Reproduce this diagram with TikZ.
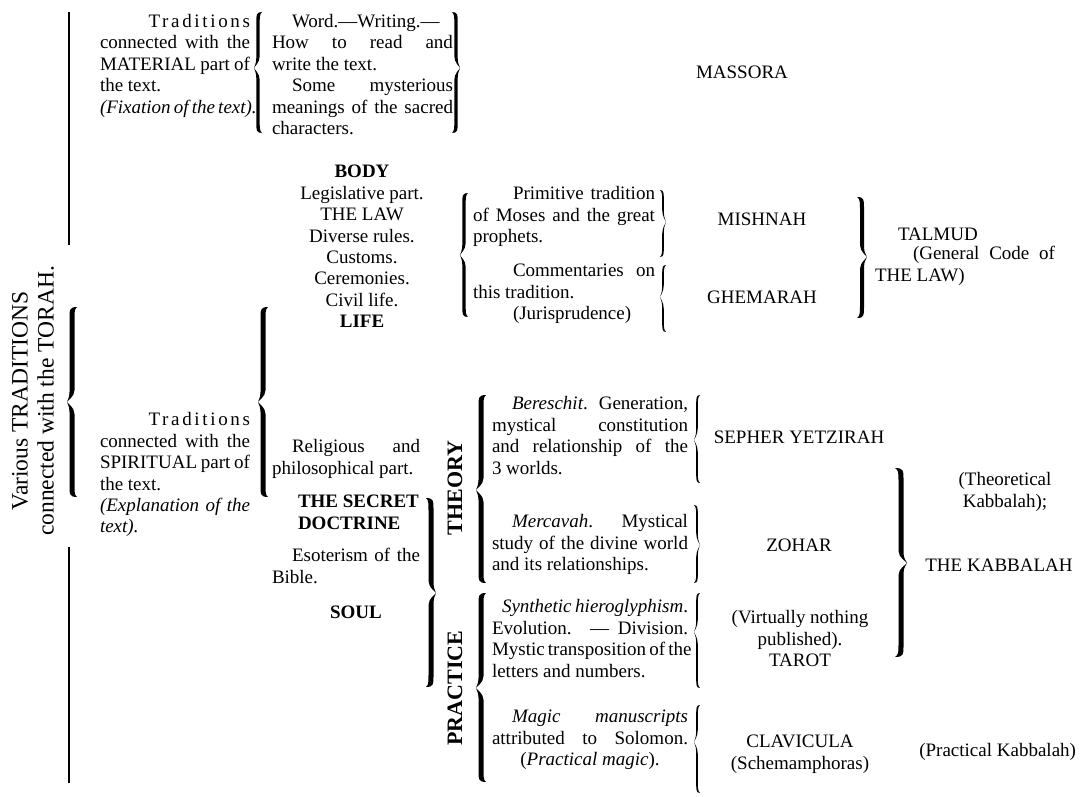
\documentclass[tikz,border=0pt]{standalone}
\usepackage{fontspec}
\setmainfont{Liberation Serif}
\newcommand\fs{\fontsize{19}{21.4}\selectfont}
\newcommand\ls[1]{{\addfontfeatures{LetterSpace=14}#1}}
\newcommand\jline[1]{\hbox to\hsize{\strut#1}}
\newcommand\lline[1]{\hbox to\hsize{\strut#1\hfil}}
\newcommand\cln[1]{\hbox to\hsize{\strut\hfil#1\hfil}}
\newcommand\blk[2]{\vbox{\hsize=#1pt #2}}
\newcommand\ind{\hspace*{20pt}}
% brace: x, y1, y2, tip y, dir (+1 tip left, -1 tip right), half thickness, amplitude
\newcommand{\brc}[7]{%
\pgfmathsetmacro\bxe{#1+#5*#7}%
\pgfmathsetmacro\bxt{#1-#5*#7}%
\pgfmathsetmacro\bxa{#1-#5*#6}%
\pgfmathsetmacro\bxb{#1+#5*#6}%
\fill (\bxe,#2) .. controls (\bxa,#2) and (\bxa,#2+3) .. (\bxa,#2+10)
 -- (\bxa,#4-10) .. controls (\bxa,#4-4) and (\bxt,#4-1) .. (\bxt,#4)
 .. controls (\bxt,#4+1) and (\bxa,#4+4) .. (\bxa,#4+10)
 -- (\bxa,#3-10) .. controls (\bxa,#3-3) and (\bxa,#3) .. (\bxe,#3)
 .. controls (\bxb,#3-2) and (\bxb,#3-5) .. (\bxb,#3-12)
 -- (\bxb,#4+12) .. controls (\bxb,#4+5) and (\bxt,#4+1) .. (\bxt,#4)
 .. controls (\bxt,#4-1) and (\bxb,#4-5) .. (\bxb,#4-12)
 -- (\bxb,#2+12) .. controls (\bxb,#2+5) and (\bxb,#2+2) .. cycle;%
}
\tikzset{
  txt/.style={inner sep=0pt, outer sep=0pt, font=\fs},
  para/.style={txt, anchor=north west},
  ctr/.style={txt, anchor=base},
  side/.style={txt, rotate=90, font=\fontsize{22}{24}\selectfont\bfseries},
  rule/.style={line width=2.5pt},
}
\begin{document}
\begin{tikzpicture}[x=1pt,y=-1pt]
\useasboundingbox (0,0) rectangle (1080,796);
\fill[white] (0,0) rectangle (1080,796);

% title
\node[txt, rotate=90, align=center, font=\fontsize{23.5}{26}\selectfont] (title) at (33,401)
  {Various TRADITIONS\\connected with the TORAH.};
\draw[rule] (69,12) -- (69,245);
\draw[rule] (69,547) -- (69,783);
\brc{72}{307}{497}{402}{1}{2.5}{5}

% material part
\node[para] (mat) at (100,12.5) {\blk{150}{%
  \jline{\hfill\ls{Traditions}}
  \jline{connected with the}
  \jline{MATERIAL part of}
  \lline{the text.}
  \lline{\itshape (Fixation of the text).}}};
\brc{258}{12}{133}{68}{1}{1.7}{4}
\node[para] (word) at (272,12.5) {\blk{181}{%
  \lline{\ind Word.—Writing.—}
  \jline{How to read and}
  \lline{write the text.}
  \jline{\ind Some mysterious}
  \jline{meanings of the sacred}
  \lline{characters.}}};
\brc{456}{12}{133}{68}{-1}{1.7}{4}
\node[ctr] (massora) at (742,78) {MASSORA};

% body
\node[txt, anchor=north] (body) at (362,163) {\blk{150}{%
  \cln{\bfseries BODY}
  \cln{Legislative part.}
  \cln{THE LAW}
  \cln{Diverse rules.}
  \cln{Customs.}
  \cln{Ceremonies.}
  \cln{Civil life.}
  \cln{\bfseries LIFE}}};
\brc{464}{193}{317}{255}{1}{1.7}{4}
\node[para] (prim) at (473,185) {\blk{182}{%
  \jline{\hspace*{40pt}Primitive tradition}
  \jline{of Moses and the great}
  \lline{prophets.}}};
\node[para] (comm) at (473,262) {\blk{182}{%
  \jline{\hspace*{40pt}Commentaries on}
  \lline{this tradition.}
  \lline{\hspace*{40pt}(Jurisprudence)}}};
\brc{663}{190}{257}{222}{-1}{0.8}{3}
\brc{663}{265}{332}{297}{1}{0.8}{3}
\node[ctr] (mishnah) at (762,225) {MISHNAH};
\node[ctr] (ghemarah) at (762,303) {GHEMARAH};
\brc{862}{197}{318}{257}{-1}{2}{5}
\node[txt, anchor=base west] (talmud) at (898,240) {TALMUD};
\node[para] (code) at (875,245) {\blk{180}{%
  \jline{\hspace*{38pt}(General Code of}
  \lline{THE LAW)}}};

% spiritual part
\brc{263}{307}{497}{402}{1}{2.5}{5}
\node[para] (spir) at (100,411) {\blk{150}{%
  \jline{\hfill\ls{Traditions}}
  \jline{connected with the}
  \jline{SPIRITUAL part of}
  \lline{the text.}
  \jline{\itshape (Explanation of the}
  \lline{\itshape text).}}};
\node[para] (relig) at (272,438) {\blk{148}{%
  \jline{\ind Religious and}
  \lline{philosophical part.}}};
\node[para] (secret) at (298,493) {\blk{130}{%
  \lline{\bfseries THE SECRET}
  \lline{\bfseries DOCTRINE}}};
\node[para] (eso) at (272,547) {\blk{148}{%
  \jline{\ind Esoterism of the}
  \lline{Bible.}}};
\node[ctr, font=\fs\bfseries] (soul) at (356,618) {SOUL};
\brc{431}{498}{687}{593}{-1}{2.5}{5}

\node[side] (theory) at (455,488) {THEORY};
\node[side] (practice) at (455,688) {PRACTICE};
\brc{481}{395}{583}{490}{1}{2.5}{5}
\brc{481}{593}{782}{688}{1}{2.5}{5}

\node[para] (ber) at (492,395) {\blk{196}{%
  \jline{\ind\textit{Bereschit}. Generation,}
  \jline{mystical constitution}
  \jline{and relationship of the}
  \lline{3 worlds.}}};
\node[para] (mer) at (492,513) {\blk{196}{%
  \jline{\ind\textit{Mercavah}. Mystical}
  \jline{study of the divine world}
  \lline{and its relationships.}}};
\node[para] (syn) at (492,598) {\blk{196}{%
  \jline{\hspace*{10pt}\textit{Synthetic hieroglyphism}.}
  \jline{Evolution. — Division.}
  \jline{Mystic transposition of the}
  \lline{letters and numbers.}}};
\node[para] (mag) at (492,708) {\blk{196}{%
  \jline{\ind\textit{Magic manuscripts}}
  \jline{attributed to Solomon.}
  \cln{(\textit{Practical magic}).}}};
\brc{697}{395}{483}{440}{1}{0.8}{3}
\brc{697}{505}{583}{545}{-1}{0.8}{3}
\brc{697}{593}{688}{632}{1}{0.8}{3}
\brc{697}{705}{793}{742}{1}{0.8}{3}

\node[ctr] (sepher) at (799,443) {SEPHER YETZIRAH};
\node[ctr] (zohar) at (799,551) {ZOHAR};
\node[txt, anchor=north] (virt) at (800,609) {\blk{170}{%
  \cln{(Virtually nothing}
  \cln{published).}
  \cln{TAROT}}};
\node[txt, anchor=north] (clav) at (800,733) {\blk{170}{%
  \cln{CLAVICULA}
  \cln{(Schemamphoras)}}};
\brc{901}{468}{657}{563}{-1}{2.5}{6}
\node[txt, anchor=north] (theo) at (1005,471) {\blk{150}{%
  \cln{(Theoretical}
  \cln{Kabbalah);}}};
\node[ctr] (kabbalah) at (999,571) {THE KABBALAH};
\node[txt, anchor=base east] (practical) at (1076,756) {(Practical Kabbalah)};
\end{tikzpicture}
\end{document}
